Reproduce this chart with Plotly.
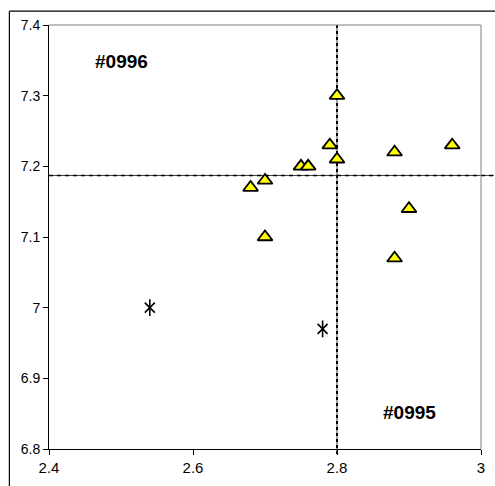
import plotly.graph_objects as go

# Data
tri_x = [2.80, 2.79, 2.80, 2.75, 2.76, 2.88, 2.96, 2.70, 2.68, 2.90, 2.70, 2.88]
tri_y = [7.30, 7.23, 7.21, 7.20, 7.20, 7.22, 7.23, 7.18, 7.17, 7.14, 7.10, 7.07]
star_x = [2.54, 2.78]
star_y = [7.00, 6.97]
ref_x = 2.80
ref_y = 7.187
labels = ["#0996", "#0995"]
label_x = [2.50, 2.90]
label_y = [7.348, 6.852]
x_ticks = [2.4, 2.6, 2.8, 3.0]
x_tick_text = ["2.4", "2.6", "2.8", "3"]
y_ticks = [6.8, 6.9, 7.0, 7.1, 7.2, 7.3, 7.4]
y_tick_text = ["6.8", "6.9", "7", "7.1", "7.2", "7.3", "7.4"]

fig = go.Figure()

fig.add_trace(go.Scatter(
    x=tri_x, y=tri_y, mode="markers",
    marker=dict(symbol="triangle-up", size=13, color="#FFFF00",
                line=dict(color="black", width=1.8)),
    showlegend=False, cliponaxis=False))
fig.add_trace(go.Scatter(
    x=star_x, y=star_y, mode="markers",
    marker=dict(symbol="x-thin-open", size=10, color="black",
                line=dict(color="black", width=1.6)),
    showlegend=False))
fig.add_trace(go.Scatter(
    x=star_x, y=star_y, mode="markers",
    marker=dict(symbol="line-ns-open", size=12, color="black",
                line=dict(color="black", width=1.6)),
    showlegend=False))

for t, lx, ly in zip(labels, label_x, label_y):
    fig.add_annotation(x=lx, y=ly, text="<b>%s</b>" % t, showarrow=False,
                       font=dict(family="Liberation Sans, Arial", size=19, color="black"))

shapes = [
    # outer chart border (left and top edges)
    dict(type="line", xref="paper", yref="paper", x0=-0.0917, x1=1.2, y0=1.0327, y1=1.0327,
         line=dict(color="black", width=1.2), layer="below"),
    dict(type="line", xref="paper", yref="paper", x0=-0.0917, x1=-0.0917, y0=-0.2, y1=1.0327,
         line=dict(color="black", width=1.2), layer="below"),
    # top and right grey plot border
    dict(type="line", xref="paper", yref="paper", x0=0, x1=1, y0=1, y1=1,
         line=dict(color="#808080", width=1)),
    dict(type="line", xref="paper", yref="paper", x0=1, x1=1, y0=0, y1=1,
         line=dict(color="#808080", width=1)),
    # reference lines
    dict(type="line", xref="paper", yref="y", x0=0, x1=1.03, y0=ref_y, y1=ref_y,
         line=dict(color="#404040", width=1), layer="below"),
    dict(type="line", xref="paper", yref="y", x0=0, x1=1.03, y0=ref_y, y1=ref_y,
         line=dict(color="black", width=1.5, dash="4px,4px"), layer="below"),
    dict(type="line", xref="x", yref="paper", x0=ref_x, x1=ref_x, y0=-0.012, y1=1,
         line=dict(color="#404040", width=1), layer="below"),
    dict(type="line", xref="x", yref="paper", x0=ref_x, x1=ref_x, y0=-0.012, y1=1,
         line=dict(color="black", width=2, dash="3px,3px"), layer="below"),
]

fig.update_layout(
    width=495, height=486,
    margin=dict(l=49, r=10, t=25, b=33),
    paper_bgcolor="white", plot_bgcolor="white",
    shapes=shapes,
    font=dict(family="Liberation Sans, Arial", size=14, color="black"),
    xaxis=dict(range=[2.4, 3.0], tickvals=x_ticks, ticktext=x_tick_text,
               tickfont=dict(size=15),
               showgrid=False, zeroline=False, showline=True, linecolor="black", linewidth=1,
               ticks="outside", ticklen=5, tickcolor="black", tickwidth=1),
    yaxis=dict(range=[6.8, 7.4], tickvals=y_ticks, ticktext=y_tick_text,
               tickfont=dict(size=14),
               showgrid=False, zeroline=False, showline=True, linecolor="black", linewidth=1,
               ticks="outside", ticklen=5, tickcolor="black", tickwidth=1),
)

fig.write_html("out.html")
